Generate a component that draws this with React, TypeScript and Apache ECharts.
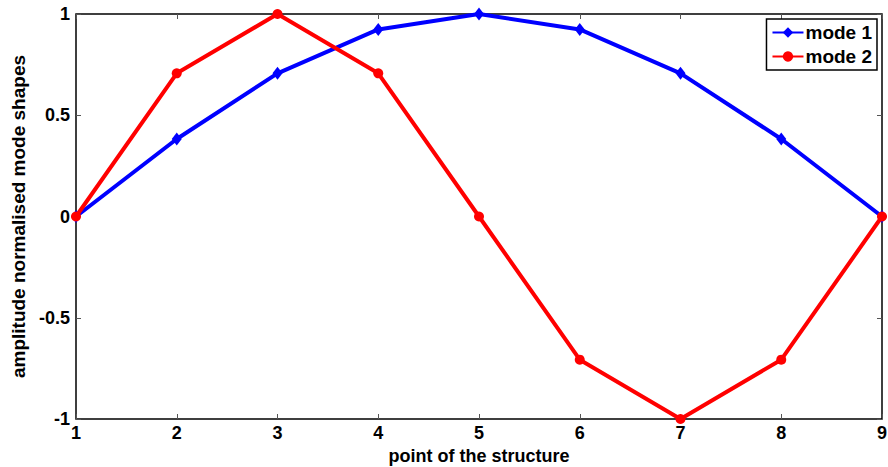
import React, { useEffect, useRef } from "react";
import * as echarts from "echarts";

const points = [1, 2, 3, 4, 5, 6, 7, 8, 9];
const mode1 = [0, 0.3827, 0.7071, 0.9239, 1, 0.9239, 0.7071, 0.3827, 0];
const mode2 = [0, 0.7071, 1, 0.7071, 0, -0.7071, -1, -0.7071, 0];
const seriesNames = ["mode 1", "mode 2"];

const FONT = "'Liberation Sans', Arial, sans-serif";

export default function App() {
  const ref = useRef<HTMLDivElement>(null);

  useEffect(() => {
    if (!ref.current) return;
    const chart = echarts.init(ref.current, null, { renderer: "svg" });
    const tickLabel = { color: "#000", fontFamily: FONT, fontWeight: "bold" as const, fontSize: 18 };
    const tick = { show: true, inside: true, length: 5, lineStyle: { color: "#555", width: 1 } };
    const hiddenAxis = {
      axisLine: { show: false, onZero: false },
      axisLabel: { show: false },
      splitLine: { show: false },
      axisTick: tick,
    };
    chart.setOption({
      animation: false,
      backgroundColor: "#fff",
      grid: {
        left: 76,
        right: 6,
        top: 14,
        bottom: 48,
        outerBoundsMode: "none",
        containLabel: false,
        show: true,
        borderColor: "#000",
        borderWidth: 1.5,
        backgroundColor: "#fff",
      },
      legend: {
        data: seriesNames,
        orient: "vertical",
        right: 11,
        top: 19,
        backgroundColor: "#fff",
        borderColor: "#000",
        borderWidth: 1.5,
        borderRadius: 0,
        padding: [4, 5, 4, 5],
        itemGap: 5,
        itemWidth: 31,
        itemHeight: 13,
        textStyle: { color: "#000", fontFamily: FONT, fontWeight: "bold", fontSize: 19, padding: [0, 0, 0, -3] },
      },
      xAxis: [
        {
          type: "value",
          min: 1,
          max: 9,
          interval: 1,
          name: "point of the structure",
          nameLocation: "middle",
          nameGap: 22,
          nameTextStyle: { color: "#000", fontFamily: FONT, fontWeight: "bold", fontSize: 18 },
          axisLine: { show: false, onZero: false },
          axisTick: tick,
          axisLabel: { ...tickLabel, margin: 5 },
          splitLine: { show: false },
        },
        { type: "value", min: 1, max: 9, interval: 1, position: "top", ...hiddenAxis },
      ],
      yAxis: [
        {
          type: "value",
          min: -1,
          max: 1,
          interval: 0.5,
          name: "amplitude normalised mode shapes",
          nameLocation: "middle",
          nameGap: 44,
          nameTextStyle: { color: "#000", fontFamily: FONT, fontWeight: "bold", fontSize: 19 },
          axisLine: { show: false, onZero: false },
          axisTick: tick,
          axisLabel: { ...tickLabel, margin: 6 },
          splitLine: { show: false },
        },
        { type: "value", min: -1, max: 1, interval: 0.5, position: "right", ...hiddenAxis },
      ],
      series: [
        {
          name: seriesNames[0],
          type: "line",
          data: points.map((p, i) => [p, mode1[i]]),
          symbol: "diamond",
          symbolSize: [10, 13],
          clip: false,
          lineStyle: { color: "#0000ff", width: 4 },
          itemStyle: { color: "#0000ff" },
        },
        {
          name: seriesNames[1],
          type: "line",
          data: points.map((p, i) => [p, mode2[i]]),
          symbol: "circle",
          symbolSize: 10,
          clip: false,
          lineStyle: { color: "#ff0000", width: 4 },
          itemStyle: { color: "#ff0000" },
        },
      ],
    });
    return () => chart.dispose();
  }, []);

  return <div ref={ref} style={{ width: 888, height: 467, position: "absolute", left: 0, top: 0 }} />;
}
